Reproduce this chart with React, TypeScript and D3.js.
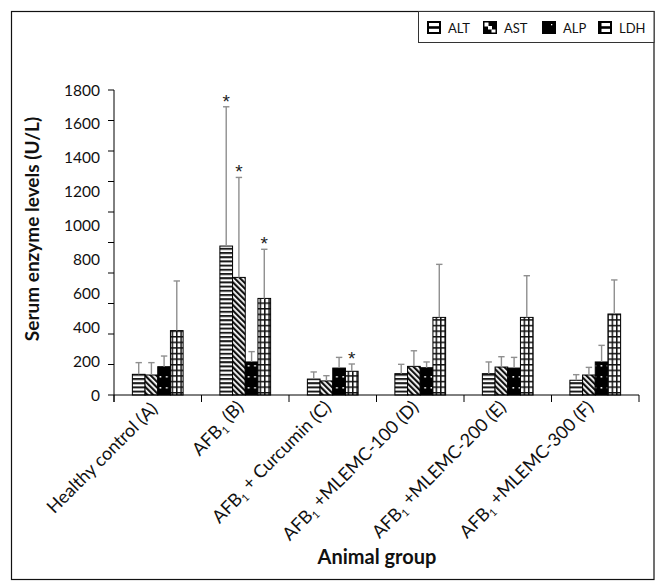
import React from "react";
import * as d3 from "d3";

const groups = [
  "Healthy control (A)",
  "AFB1 (B)",
  "AFB1 + Curcumin (C)",
  "AFB1 +MLEMC-100 (D)",
  "AFB1 +MLEMC-200 (E)",
  "AFB1 +MLEMC-300 (F)",
];
const seriesNames = ["ALT", "AST", "ALP", "LDH"];

const ALT = [122, 879, 94, 126, 126, 87];
const AST = [118, 694, 83, 169, 165, 118];
const ALP = [167, 195, 159, 161, 159, 195];
const LDH = [380, 570, 140, 458, 458, 478];

const ALT_err = [69, 822, 42, 55, 69, 33];
const AST_err = [73, 590, 31, 92, 61, 45];
const ALP_err = [63, 61, 63, 34, 63, 98];
const LDH_err = [293, 290, 43, 313, 246, 201];

const ALT_sig = [false, true, false, false, false, false];
const AST_sig = [false, true, false, false, false, false];
const ALP_sig = [false, false, false, false, false, false];
const LDH_sig = [false, true, true, false, false, false];

const yTickLabels = [0, 200, 400, 600, 800, 1000, 1200, 1400, 1600, 1800];
const yTickMarks = [0, 200, 400, 600, 800, 1000, 1200, 1400, 1600, 1800, 2000];

const values = [ALT, AST, ALP, LDH];
const errors = [ALT_err, AST_err, ALP_err, LDH_err];
const sigs = [ALT_sig, AST_sig, ALP_sig, LDH_sig];

const FONT = "Lato, 'Open Sans', sans-serif";

function CatLabel({ text }: { text: string }) {
  const m = text.match(/^AFB1(.*)$/);
  if (!m) return <>{text}</>;
  return (
    <>
      AFB
      <tspan dy="0.3em" fontSize="10.5">1</tspan>
      <tspan dy="-0.3em">{m[1]}</tspan>
    </>
  );
}

export default function App() {
  const left = 114;
  const right = 639;
  const base = 395;
  const top = 90;

  const y = d3.scaleLinear().domain([0, 1800]).range([base, top]);
  const yMarks = d3.scaleLinear().domain([0, 2000]).range([base, top]);
  const x0 = d3
    .scaleBand<string>()
    .domain(groups)
    .range([left, right])
    .paddingInner(0.42)
    .paddingOuter(0.21);
  const x1 = d3
    .scaleBand<string>()
    .domain(seriesNames)
    .range([0, x0.bandwidth()]);
  const step = x0.step();
  const boundaries = d3.range(groups.length + 1).map((i) => left + i * step);

  const fills = ["url(#pALT)", "url(#pAST)", "url(#pALP)", "url(#pLDH)"];
  const errColor = "#8f8f8f";

  const legendX = [427, 483, 542, 598];

  return (
    <svg
      width={660}
      height={581}
      style={{ position: "absolute", left: 0, top: 0, background: "#fff" }}
      fontFamily={FONT}
    >
      <defs>
        <pattern id="pALT" patternUnits="userSpaceOnUse" width={4} height={4.2}>
          <rect width={4} height={4.2} fill="#fff" />
          <rect width={4} height={2} fill="#1a1a1a" />
        </pattern>
        <pattern
          id="pAST"
          patternUnits="userSpaceOnUse"
          width={4}
          height={4}
          patternTransform="rotate(-45)"
        >
          <rect width={4} height={4} fill="#fff" />
          <rect width={2.2} height={4} fill="#111" />
        </pattern>
        <pattern id="pALP" patternUnits="userSpaceOnUse" width={6.3} height={11}>
          <rect width={6.3} height={11} fill="#000" />
          <rect x={2.2} y={2} width={1.6} height={1.6} fill="#fff" />
        </pattern>
        <pattern id="pLDH" patternUnits="userSpaceOnUse" width={4.4} height={5.6}>
          <rect width={4.4} height={5.6} fill="#fff" />
          <rect width={1.5} height={5.6} fill="#111" />
          <rect width={4.4} height={1.5} fill="#111" />
        </pattern>
      </defs>

      {/* outer frame */}
      <rect x={11.5} y={11.5} width={642.5} height={568} fill="none" stroke="#111" strokeWidth={1.2} />

      {/* legend */}
      <rect x={418.5} y={11.5} width={235.5} height={31} fill="#fff" stroke="#333" strokeWidth={1} />
      {seriesNames.map((s, i) => (
        <g key={s} transform={`translate(${legendX[i]},21)`}>
          {i === 0 && (
            <g>
              <rect x={0} y={0} width={14} height={13} fill="#000" />
              <rect x={2} y={2} width={10} height={3.2} fill="#fff" />
              <rect x={2} y={7.8} width={10} height={3.2} fill="#fff" />
            </g>
          )}
          {i === 1 && (
            <g>
              <rect x={0} y={0} width={14} height={13} fill="#000" />
              <rect x={1.5} y={1.5} width={4} height={4} fill="#fff" />
              <rect x={5} y={5} width={4} height={3.5} fill="#fff" />
              <rect x={8.5} y={8.5} width={4} height={3} fill="#fff" />
            </g>
          )}
          {i === 2 && (
            <g>
              <rect x={0} y={0} width={14} height={13} fill="#000" />
              <rect x={9} y={3} width={1.3} height={1.3} fill="#fff" />
            </g>
          )}
          {i === 3 && (
            <g>
              <rect x={0} y={0} width={14} height={13} fill="#000" />
              <rect x={3.5} y={2} width={8.5} height={3.2} fill="#fff" />
              <rect x={3.5} y={7.8} width={8.5} height={3.2} fill="#fff" />
            </g>
          )}
          <text x={21} y={11.5} fontSize={13} fill="#111">
            {s}
          </text>
        </g>
      ))}

      {/* bars */}
      {seriesNames.map((s, si) => (
        <g key={s}>
          {groups.map((g, gi) => {
            const v = values[si][gi];
            const bx = (x0(g) as number) + (x1(s) as number);
            const bw = x1.bandwidth();
            return (
              <rect
                key={g}
                x={bx}
                y={y(v)}
                width={bw}
                height={base - y(v)}
                fill={fills[si]}
                stroke="#000"
                strokeWidth={1}
              />
            );
          })}
        </g>
      ))}

      {/* error bars */}
      {seriesNames.map((s, si) => (
        <g key={s} stroke={errColor} strokeWidth={1.4}>
          {groups.map((g, gi) => {
            const v = values[si][gi];
            const e = errors[si][gi];
            const cx = (x0(g) as number) + (x1(s) as number) + x1.bandwidth() / 2;
            return (
              <g key={g}>
                <line x1={cx} x2={cx} y1={y(v)} y2={y(v + e)} />
                <line x1={cx - 3.2} x2={cx + 3.2} y1={y(v + e)} y2={y(v + e)} />
              </g>
            );
          })}
        </g>
      ))}

      {/* significance */}
      {seriesNames.map((s, si) =>
        groups.map((g, gi) => {
          if (!sigs[si][gi]) return null;
          const v = values[si][gi];
          const e = errors[si][gi];
          const cx = (x0(g) as number) + (x1(s) as number) + x1.bandwidth() / 2;
          return (
            <text
              key={s + g}
              x={cx}
              y={y(v + e) + 1}
              textAnchor="middle"
              fontSize={19}
              fontFamily="'Liberation Sans', sans-serif"
              fill="#222"
            >
              *
            </text>
          );
        })
      )}

      {/* y axis */}
      <line x1={left} x2={left} y1={top} y2={base + 7} stroke="#000" strokeWidth={1} />
      {yTickMarks.map((t) => (
        <line key={t} x1={left - 6} x2={left} y1={yMarks(t)} y2={yMarks(t)} stroke="#000" strokeWidth={1} />
      ))}
      {yTickLabels.map((t) => (
        <text
          key={t}
          x={left - 14}
          y={y(t)}
          dy="0.36em"
          textAnchor="end"
          fontSize={15.5}
          fill="#111"
        >
          {t}
        </text>
      ))}

      {/* x axis */}
      <line x1={left} x2={right} y1={base} y2={base} stroke="#000" strokeWidth={1} />
      {boundaries.map((b, i) => (
        <line key={i} x1={b} x2={b} y1={base} y2={base + 7} stroke="#000" strokeWidth={1} />
      ))}
      {groups.map((g) => {
        const cx = (x0(g) as number) + x0.bandwidth() / 2;
        return (
          <text
            key={g}
            transform={`translate(${cx + 1},${base + 15}) rotate(-45)`}
            textAnchor="end"
            fontSize={18}
            fill="#111"
          >
            <CatLabel text={g} />
          </text>
        );
      })}

      {/* titles */}
      <text
        transform={`translate(39,229) rotate(-90)`}
        textAnchor="middle"
        fontSize={19}
        fontWeight="bold"
        fill="#111"
      >
        Serum enzyme levels (U/L)
      </text>
      <text x={377} y={564} textAnchor="middle" fontSize={20} fontWeight="bold" fill="#111">
        Animal group
      </text>
    </svg>
  );
}
